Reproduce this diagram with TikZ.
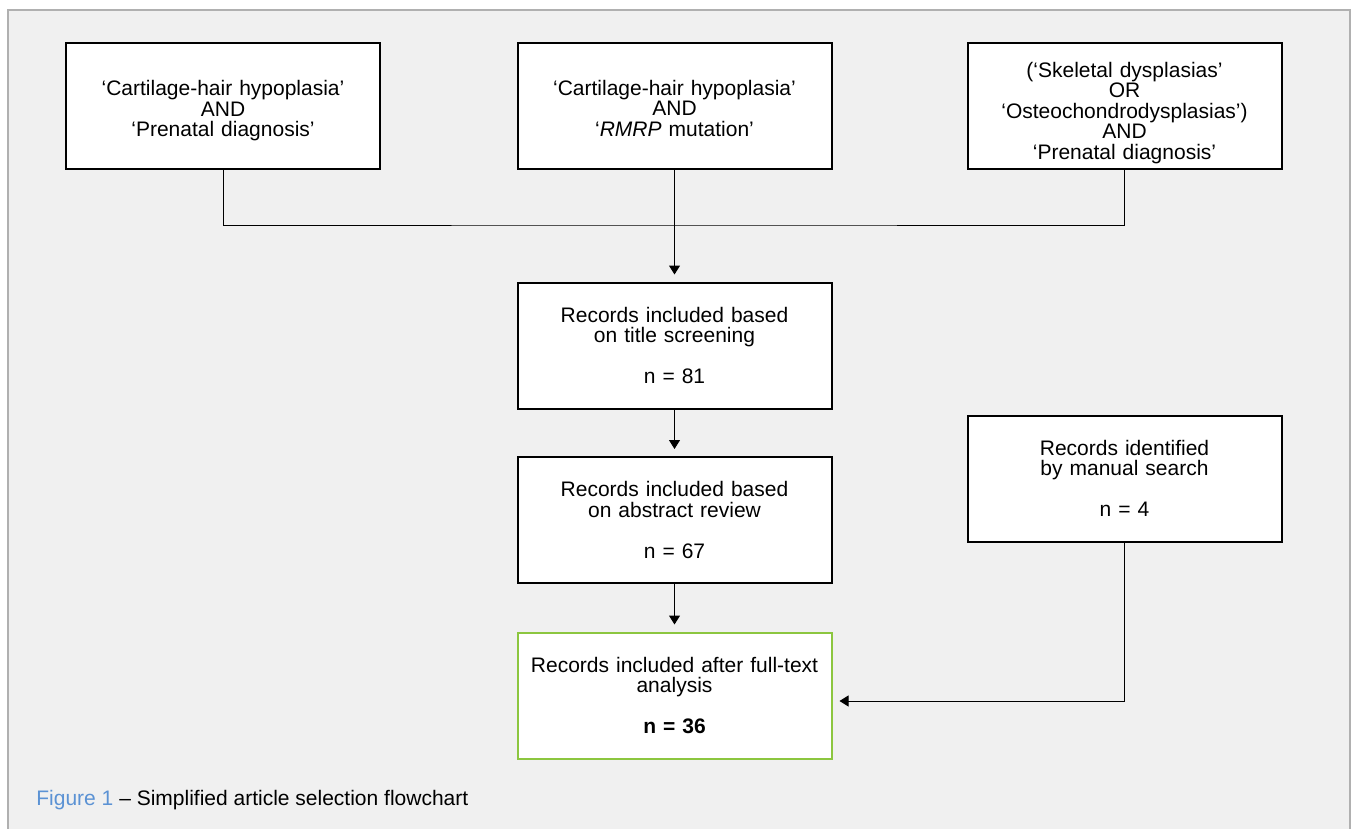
\documentclass[tikz,border=0pt]{standalone}
\usepackage{fontspec}
\setmainfont{Liberation Sans}
\usetikzlibrary{arrows.meta}
\definecolor{panelgray}{HTML}{F0F0F0}
\definecolor{framegray}{HTML}{B0B0B0}
\definecolor{finalgreen}{HTML}{8CC63F}
\definecolor{figblue}{HTML}{5B92D4}
\tikzset{
    recbox/.style={draw=black, line width=1pt, fill=white, minimum width=157pt, minimum height=63pt,
        text width=150pt, inner sep=0pt, align=center, font=\fontsize{10.5}{10.25}\selectfont},
    querybox/.style={recbox, execute at begin node={\rule{0pt}{#1}}},
    finalbox/.style={recbox, draw=finalgreen},
    link/.style={line width=0.5pt},
    flow/.style={link, -{Triangle[length=4.5pt,width=5.5pt]}, shorten >=3.5pt}
}
\begin{document}
\begin{tikzpicture}[x=0.5pt,y=-0.5pt]
        \useasboundingbox (0,0) rectangle (1354,829);
        \fill[panelgray] (8,10) rectangle (1350,829);
        \draw[framegray, line width=0.6pt] (8,829) -- (8,10) -- (1350,10) -- (1350,829);
        \node[querybox=12.5pt] (chhprenatal) at (223,106) {‘Cartilage-hair hypoplasia’\\AND\\‘Prenatal diagnosis’};
        \node[querybox=10pt] (chhrmrp) at (674.5,106) {‘Cartilage-hair hypoplasia’\\AND\\‘\textit{RMRP} mutation’};
        \node[querybox=14.5pt] (skeletal) at (1124.5,106) {(‘Skeletal dysplasias’\\OR\\‘Osteochondrodysplasias’)\\AND\\‘Prenatal diagnosis’};
        \node[recbox] (title) at (674.5,345.5) {Records included based\\on title screening\\[10.25pt]n = 81};
        \node[recbox] (abstract) at (674.5,520) {Records included based\\on abstract review\\[10.25pt]n = 67};
        \node[recbox] (manual) at (1124.5,478.5) {Records identified\\by manual search\\[10.25pt]n = 4};
        \node[finalbox] (final) at (674.5,695.5) {Records included after full-text\\analysis\\[10.25pt]\textbf{n = 36}};
        \coordinate (join) at (674.5,225);
        \draw[link] (chhprenatal.south) |- (join) -| (skeletal.south);
        \draw[flow] (chhrmrp.south) -- (title.north);
        \draw[flow] (title.south) -- (abstract.north);
        \draw[flow] (abstract.south) -- (final.north);
        \draw[flow] (manual.south) |- ([yshift=-2.75pt]final.east);
        \node[anchor=west, font=\fontsize{10.5}{12}\selectfont, inner sep=0pt] (caption) at (36,800)
            {\textcolor{figblue}{Figure 1} – Simplified article selection flowchart};
    \end{tikzpicture}
\end{document}
